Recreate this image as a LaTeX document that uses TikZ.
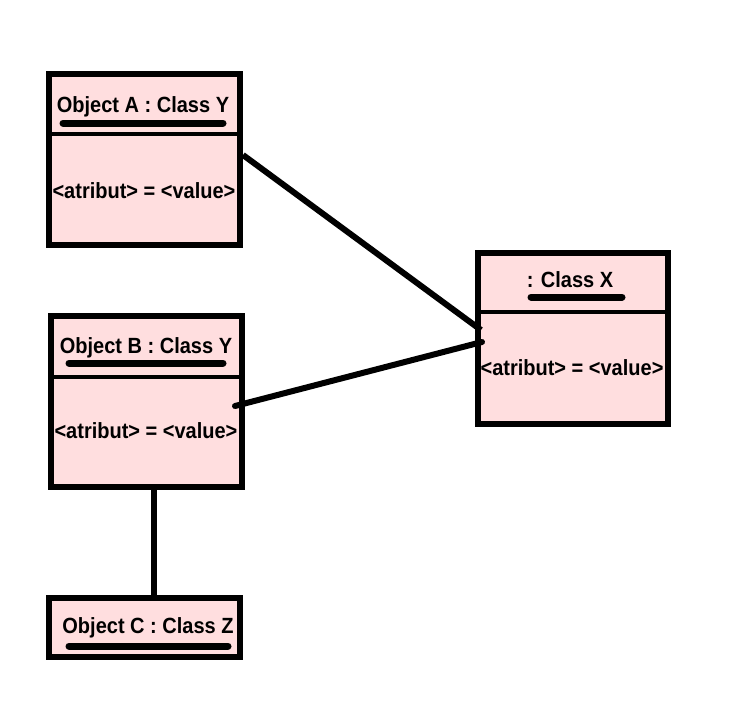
\documentclass[tikz,border=0pt]{standalone}
\usepackage{fontspec}
\usepackage{graphicx}
\setmainfont{Liberation Sans}
\definecolor{boxfill}{HTML}{FFDEDF}
\newcommand{\talltext}[1]{\scalebox{1}[1.1]{#1}}
\begin{document}
\begin{tikzpicture}[x=1pt,y=-1pt,
  objbox/.style={draw=black, line width=6pt, fill=boxfill, rectangle, inner sep=0pt, minimum width=191pt},
  divider/.style={line width=4pt},
  link/.style={line width=6pt},
  uline/.style={line width=7pt, line cap=round},
  txt/.style={font=\fontsize{20pt}{23pt}\selectfont\bfseries, inner sep=0pt}]
\useasboundingbox (0,0) rectangle (728,728);
% boxes
\node[objbox, minimum height=171pt] (A) at (144.5,159.5) {};
\node[objbox, minimum width=190pt, minimum height=171pt] (X) at (573,338.5) {};
\node[objbox, minimum height=171pt] (B) at (146.5,401.5) {};
\node[objbox, minimum height=59pt] (C) at (144.5,627.5) {};
% dividers
\draw[divider] (A.west |- 0,134) coordinate (a1) -- (A.east |- 0,134) coordinate (a2);
\draw[divider] (X.west |- 0,312) coordinate (x1) -- (X.east |- 0,312) coordinate (x2);
\draw[divider] (B.west |- 0,377) coordinate (b1) -- (B.east |- 0,377) coordinate (b2);
% texts
\node[txt] (At) at (143,107) {\talltext{Object A : Class Y}};
\node[txt] (Aa) at (144,191) {\talltext{<atribut> = <value>}};
\node[txt] (Xt) at (570,280) {\talltext{: Class X}};
\node[txt] (Xa) at (572,368) {\talltext{<atribut> = <value>}};
\node[txt] (Bt) at (146,348) {\talltext{Object B : Class Y}};
\node[txt] (Ba) at (146,431) {\talltext{<atribut> = <value>}};
\node[txt] (Ct) at (148,628) {\talltext{Object C : Class Z}};
% underlines
\draw[uline] (63,123) coordinate (au1) -- (223,123) coordinate (au2);
\draw[uline] (531,297) coordinate (xu1) -- (622,297) coordinate (xu2);
\draw[uline] (69,363) coordinate (bu1) -- (223,363) coordinate (bu2);
\draw[uline] (69,646) coordinate (cu1) -- (228,646) coordinate (cu2);
% connectors
\coordinate (pA) at (243,155);
\coordinate (pX1) at (481,330);
\coordinate (pB) at (235,406);
\coordinate (pX2) at (482,342);
\coordinate (pB2) at (154,487);
\coordinate (pC) at (154,598);
\draw[link] (pA) -- (pX1);
\draw[link, line cap=round] (pB) -- (pX2);
\draw[link] (pB2) -- (pC);
\end{tikzpicture}
\end{document}
